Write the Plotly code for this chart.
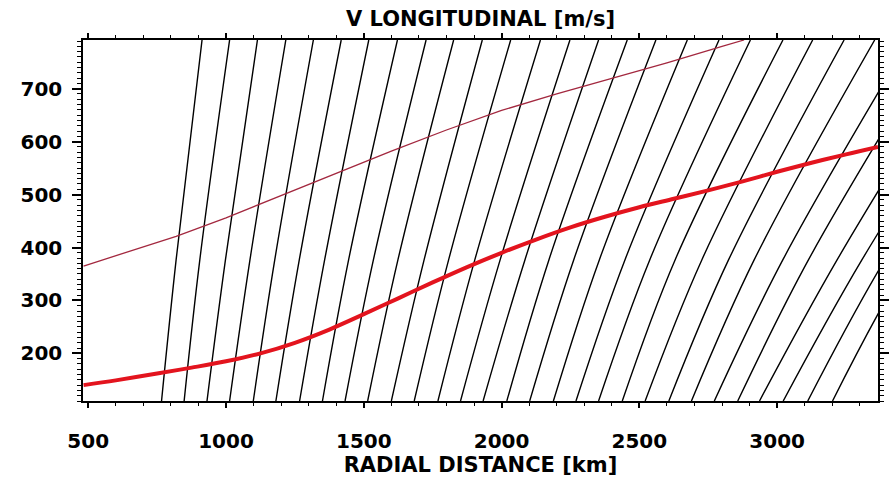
import plotly.graph_objects as go

# ---- data ----
x_range = [481, 3366]          # radial distance, km
y_range = [110, 792]           # velocity, m/s

# black curves: x (km) at three velocity levels
line_levels = [110, 377, 792]
line_x_bottom = [766, 848, 931, 1013, 1099, 1181, 1267, 1350, 1432, 1514,
                 1600, 1683, 1769, 1851, 1933, 2019, 2102, 2188, 2270, 2352,
                 2438, 2521, 2607, 2689, 2772, 2857, 2936, 3022, 3111, 3201]
line_x_mid = [819, 905, 998, 1087, 1177, 1266, 1358, 1445, 1535, 1624,
              1719, 1808, 1903, 1995, 2085, 2172, 2262, 2355, 2448, 2538,
              2630, 2727, 2824, 2917, 3021, 3114, 3218, 3308, 3391, 3480]
line_x_top = [913, 1013, 1114, 1217, 1317, 1418, 1518, 1622, 1726, 1826,
              1930, 2033, 2141, 2248, 2352, 2456, 2560, 2674, 2789, 2903,
              3021, 3129, 3243, 3354, 3480, 3587, 3706, 3813, 3910, 4032]

# thick red curve
slow_x = [483, 600, 750, 875, 1000, 1125, 1250, 1375, 1500, 1625, 1750, 1875,
          2000, 2125, 2250, 2375, 2500, 2625, 2750, 2875, 3000, 3125, 3250, 3366]
slow_v = [140, 149, 162, 173, 185, 200, 220, 245, 274, 304, 334, 363,
          390, 415, 438, 458, 476, 492, 508, 525, 543, 560, 576, 590]

# thin dark-red curve
fast_x = [483, 650, 819, 1000, 1200, 1400, 1600, 1800, 2000, 2200, 2400, 2600, 2800, 2880]
fast_v = [365, 393, 421, 456, 498, 540, 582, 622, 659, 690, 719, 749, 780, 792]

title_text = "V LONGITUDINAL [m/s]"
xtitle_text = "RADIAL DISTANCE [km]"

FONT = "DejaVu Sans"

fig = go.Figure()
for xb, xm, xt in zip(line_x_bottom, line_x_mid, line_x_top):
    fig.add_trace(go.Scatter(
        x=[xb, xm, xt], y=line_levels, mode="lines",
        line=dict(color="black", width=1.4, shape="spline"),
        hoverinfo="skip", showlegend=False))

fig.add_trace(go.Scatter(x=fast_x, y=fast_v, mode="lines",
                         line=dict(color="#a3283f", width=1.3),
                         showlegend=False))
fig.add_trace(go.Scatter(x=slow_x, y=slow_v, mode="lines",
                         line=dict(color="#e3141e", width=4, shape="spline"),
                         showlegend=False))

tickfont = dict(family=FONT, size=20, color="black", weight="bold")
titlefont = dict(family=FONT, size=21, color="black", weight="bold")

fig.update_layout(
    width=893, height=481,
    margin=dict(l=83, r=4, t=40, b=80),
    paper_bgcolor="white", plot_bgcolor="white",
    title=dict(text=title_text, x=0.5, xref="paper", y=0.962, yref="container",
               yanchor="middle", xanchor="center", font=titlefont),
    xaxis=dict(range=x_range, tick0=0, dtick=500, ticks="outside", ticklen=5,
               tickwidth=1.5, tickcolor="black", showline=True, linecolor="black",
               linewidth=1.5, mirror="ticks", showgrid=False, zeroline=False,
               minor=dict(dtick=100, tick0=0, ticks="outside", ticklen=3,
                          tickcolor="black", tickwidth=1, showgrid=False),
               tickfont=tickfont, ticklabelstandoff=16,
               title=dict(text=xtitle_text, standoff=5, font=titlefont)),
    yaxis=dict(range=y_range, tick0=0, dtick=100, ticks="outside", ticklen=9,
               tickwidth=1.5, tickcolor="black", showline=True, linecolor="black",
               linewidth=1.5, mirror="ticks", showgrid=False, zeroline=False,
               minor=dict(dtick=10, tick0=0, ticks="outside", ticklen=4,
                          tickcolor="black", tickwidth=1, showgrid=False),
               tickfont=tickfont, ticklabelstandoff=6),
)

fig.write_html("out.html")
